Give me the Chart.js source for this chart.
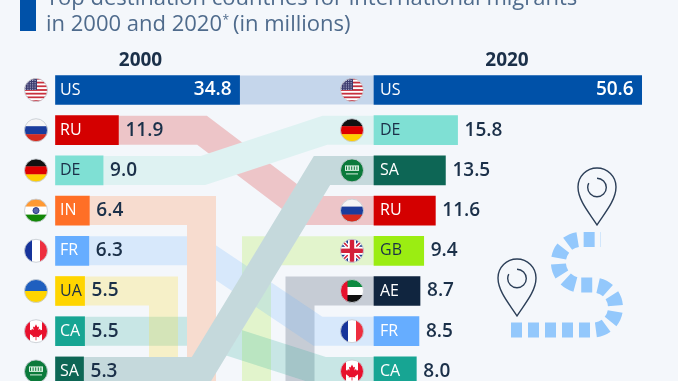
<!DOCTYPE html>
<html>
<head>
<meta charset="utf-8">
<script src="https://cdn.jsdelivr.net/npm/chart.js@4"></script>
<style>
  html, body { margin: 0; padding: 0; background: #f4f7fb; overflow: hidden; }
  #wrap { position: relative; width: 678px; height: 381px; overflow: hidden; }
  canvas { position: absolute; left: 0; top: 0; }
</style>
</head>
<body>
<div id="wrap"><canvas id="migrants" width="678" height="381"></canvas></div>
<script>
// values in millions
var titleLines = ['Top destination countries for international migrants', 'in 2000 and 2020'];
var years = ['2000', '2020'];
var ranks = [1, 2, 3, 4, 5, 6, 7, 8];
var countries2000 = ['US', 'RU', 'DE', 'IN', 'FR', 'UA', 'CA', 'SA'];
var values2000 = [34.8, 11.9, 9.0, 6.4, 6.3, 5.5, 5.5, 5.3];
var countries2020 = ['US', 'DE', 'SA', 'RU', 'GB', 'AE', 'FR', 'CA'];
var values2020 = [50.6, 15.8, 13.5, 11.6, 9.4, 8.7, 8.5, 8.0];

var colors = {
  US: '#0051a8', RU: '#d40000', DE: '#7fe0d4', IN: '#ff6f26', FR: '#66adff',
  UA: '#ffd500', CA: '#17a593', SA: '#0d6655', GB: '#9bed12', AE: '#10253f'
};
var ink = '#1b3049';
var darkLabels = ['DE', 'UA', 'GB'];

// page pixels <-> value units, both columns share the same scale
var unit = 5.29, left2000 = 55.5, left2020 = 374, rowH = 40.2, firstRow = 90;
function u(px) { return (px - left2000) / unit; }

function hexA(hex, a) {
  var n = parseInt(hex.slice(1), 16);
  return 'rgba(' + (n >> 16) + ',' + ((n >> 8) & 255) + ',' + (n & 255) + ',' + a + ')';
}

// ribbon from a bar in 2000 to the same country's bar in 2020
function link(code, bend1, bend2, paint) {
  var a = countries2000.indexOf(code), b = countries2020.indexOf(code);
  return ribbon([{x: values2000[a], y: ranks[a]}, {x: u(bend1), y: ranks[a]}, {x: u(bend2), y: ranks[b]}, {x: u(left2020), y: ranks[b]}], paint);
}
// country dropped out of the list: goes off the bottom
function dropOut(code, lane, paint) {
  var a = countries2000.indexOf(code);
  return ribbon([{x: values2000[a], y: ranks[a]}, {x: u(lane), y: ranks[a]}, {x: u(lane), y: 9.5}], paint);
}
// country new in the list: comes up from the bottom
function comeIn(code, lane, paint) {
  var b = countries2020.indexOf(code);
  return ribbon([{x: u(lane), y: 9.5}, {x: u(lane), y: ranks[b]}, {x: u(left2020), y: ranks[b]}], paint);
}
var ribbonOrder = 10;
function ribbon(pts, color) {
  ribbonOrder++;
  return {
    type: 'line', data: pts, xAxisID: 'x', yAxisID: 'y', order: ribbonOrder,
    borderColor: color, borderWidth: 29, borderJoinStyle: 'miter', borderCapStyle: 'butt',
    pointRadius: 0, tension: 0, fill: false
  };
}

// first in the list ends up on top
var ribbons = [
  link('SA', 200, 322, '#c5d9dc'),
  link('DE', 203, 325, '#def2f2'),
  link('US', 250, 330, '#c5d6eb'),
  dropOut('IN', 201.5, '#f7dccf'),
  link('RU', 202, 308, hexA(colors.RU, 0.2)),
  link('FR', 198, 318, hexA(colors.FR, 0.2)),
  dropOut('UA', 163.5, hexA(colors.UA, 0.2)),
  link('CA', 198, 323, hexA(colors.CA, 0.2)),
  comeIn('GB', 256.5, hexA(colors.GB, 0.2)),
  comeIn('AE', 300, hexA(colors.AE, 0.2))
];

function barSet(values, codes, axis) {
  return {
    type: 'bar', xAxisID: axis, yAxisID: 'y', order: 1, barThickness: 29, grouped: false,
    data: values.map(function (v, i) { return {x: v, y: ranks[i]}; }),
    backgroundColor: codes.map(function (c) { return colors[c]; })
  };
}

// flags
function stripes(c, cols, horizontal) {
  var r = 12, n = cols.length;
  cols.forEach(function (col, i) {
    c.fillStyle = col;
    if (horizontal) c.fillRect(-r, -r + i * 2 * r / n, 2 * r, 2 * r / n + 0.3);
    else c.fillRect(-r + i * 2 * r / n, -r, 2 * r / n + 0.3, 2 * r);
  });
}
var flags = {
  US: function (c) {
    var s = [];
    for (var i = 0; i < 13; i++) s.push(i % 2 ? '#ffffff' : '#c8313e');
    stripes(c, s, true);
    c.fillStyle = '#3c3b6e';
    c.fillRect(-12, -12, 13, 12);
    c.fillStyle = '#c9cde6';
    for (var y = -10; y < 0; y += 2.2) for (var x = -11; x < 1; x += 2.4) c.fillRect(x, y, 1, 1);
  },
  RU: function (c) { stripes(c, ['#f5f5f5', '#1a3c9c', '#d52b1e'], true); },
  DE: function (c) { stripes(c, ['#111111', '#dd0000', '#ffce00'], true); },
  IN: function (c) {
    stripes(c, ['#ff9933', '#ffffff', '#138808'], true);
    c.strokeStyle = '#2a3a8c'; c.fillStyle = '#5a66a8'; c.lineWidth = 1;
    c.beginPath(); c.arc(0, 0, 3, 0, 7); c.fill(); c.stroke();
  },
  FR: function (c) { stripes(c, ['#17349b', '#ffffff', '#ee2e3f']); },
  UA: function (c) { stripes(c, ['#1f5fbf', '#ffd500'], true); },
  CA: function (c) {
    stripes(c, ['#e8112d', '#ffffff', '#ffffff', '#e8112d']);
    c.fillStyle = '#e8112d';
    c.fill(new Path2D('M0,-7 L1.5,-4 L3,-4.6 L2.4,-1 L4,-2.4 L4.6,-1 L7,-1.4 L6,1 L7,2 L3,5 L3.4,6 L0.4,5.6 L0.4,9 L-0.4,9 L-0.4,5.6 L-3.4,6 L-3,5 L-7,2 L-6,1 L-7,-1.4 L-4.6,-1 L-4,-2.4 L-2.4,-1 L-3,-4.6 L-1.5,-4 Z'));
  },
  SA: function (c) {
    stripes(c, ['#0b7a3b'], true);
    c.fillStyle = '#d9efe0';
    c.fillRect(-7, -5, 14, 5.5);
    c.fillStyle = '#0b7a3b';
    for (var x = -6; x < 7; x += 2.6) c.fillRect(x, -4, 1, 3.5);
    c.fillStyle = '#d9efe0';
    c.fillRect(-6, 3, 12, 1);
  },
  GB: function (c) {
    stripes(c, ['#1f3f8f'], true);
    c.lineCap = 'butt';
    c.strokeStyle = '#ffffff'; c.lineWidth = 4;
    c.beginPath(); c.moveTo(-12, -12); c.lineTo(12, 12); c.moveTo(12, -12); c.lineTo(-12, 12); c.stroke();
    c.strokeStyle = '#d3203a'; c.lineWidth = 1.6;
    c.stroke();
    c.fillStyle = '#ffffff'; c.fillRect(-12, -4, 24, 8); c.fillRect(-4, -12, 8, 24);
    c.fillStyle = '#d3203a'; c.fillRect(-12, -2.2, 24, 4.4); c.fillRect(-2.2, -12, 4.4, 24);
  },
  AE: function (c) {
    stripes(c, ['#0b8a3e', '#ffffff', '#111111'], true);
    c.fillStyle = '#e8112d';
    c.fillRect(-12, -12, 7.5, 24);
  }
};

function pin(c, x, top) {
  c.save();
  c.translate(x, top);
  c.strokeStyle = '#2c3f58';
  c.lineWidth = 1.4;
  c.stroke(new Path2D('M0,57 C-6,47 -19,33 -19,19 A19,19 0 0 1 19,19 C19,33 6,47 0,57 Z'));
  c.beginPath();
  c.arc(0, 19.5, 9.3, -1.57, -1.57 + 5.2);
  c.stroke();
  c.restore();
}

var overlay = {
  id: 'overlay',
  afterDatasetsDraw: function (chart) {
    var c = chart.ctx;
    c.save();
    // title block
    c.fillStyle = '#0051a8';
    c.fillRect(20, 0, 16, 31);
    c.fillStyle = '#4f6b8c';
    c.font = '22px "Open Sans"';
    c.textAlign = 'left';
    c.textBaseline = 'alphabetic';
    c.fillText(titleLines[0], 46, 5);
    c.fillText(titleLines[1], 46, 31);
    var w = c.measureText(titleLines[1]).width;
    c.font = '12px "Open Sans"';
    c.fillText('*', 46 + w + 0.5, 24);
    c.font = '22px "Open Sans"';
    c.fillText('(in millions)', 46 + w + 11, 31);

    // column heads
    c.fillStyle = ink;
    c.font = 'bold 19px "Open Sans"';
    c.textAlign = 'center';
    c.fillText(years[0], 140.5, 66);
    c.fillText(years[1], 507, 66);

    // decoration: dashed route and two pins
    c.strokeStyle = '#93c8fc';
    c.lineWidth = 15;
    c.setLineDash([11, 6]);
    c.stroke(new Path2D('M511 330 L593 330 A22.5 22.5 0 0 0 593 285 L578 285 A23 23 0 0 1 578 239.5 L601 239.5'));
    c.setLineDash([]);
    pin(c, 597, 168);
    pin(c, 517, 259);

    // bars: flag, code, value
    [[0, countries2000, values2000, 19.5, 4.5], [1, countries2020, values2020, 22, 6]].forEach(function (col) {
      chart.getDatasetMeta(col[0]).data.forEach(function (bar, i) {
        var code = col[1][i], y = bar.y;
        c.save();
        c.translate(bar.base - col[3], y);
        c.beginPath();
        c.arc(0, 0, 11.5, 0, Math.PI * 2);
        c.clip();
        flags[code](c);
        c.restore();
        c.strokeStyle = 'rgba(200,205,212,0.9)';
        c.lineWidth = 1;
        c.beginPath();
        c.arc(bar.base - col[3], y, 11.5, 0, Math.PI * 2);
        c.stroke();

        c.textBaseline = 'middle';
        c.textAlign = 'left';
        c.font = '16px "Open Sans"';
        c.fillStyle = darkLabels.indexOf(code) >= 0 ? ink : '#ffffff';
        c.fillText(code, bar.base + col[4], y);
        c.font = '600 19px "Open Sans"';
        var txt = col[2][i].toFixed(1);
        if (code === 'US') {
          c.textAlign = 'right';
          c.fillStyle = '#ffffff';
          c.fillText(txt, bar.x - 8, y);
        } else {
          c.fillStyle = ink;
          c.fillText(txt, bar.x + 7, y);
        }
      });
    });
    c.restore();
  }
};

new Chart(document.getElementById('migrants'), {
  data: {
    datasets: [barSet(values2000, countries2000, 'x'), barSet(values2020, countries2020, 'x2')].concat(ribbons)
  },
  options: {
    indexAxis: 'y',
    responsive: false,
    animation: false,
    layout: { padding: 0 },
    plugins: { legend: { display: false }, tooltip: { enabled: false } },
    scales: {
      x: { type: 'linear', display: false, min: -left2000 / unit, max: (678 - left2000) / unit },
      x2: { type: 'linear', display: false, min: -left2020 / unit, max: (678 - left2020) / unit },
      y: { type: 'linear', display: false, offset: false, reverse: true, min: 1 - firstRow / rowH, max: 1 - firstRow / rowH + 381 / rowH }
    }
  },
  plugins: [overlay]
});
</script>
</body>
</html>
